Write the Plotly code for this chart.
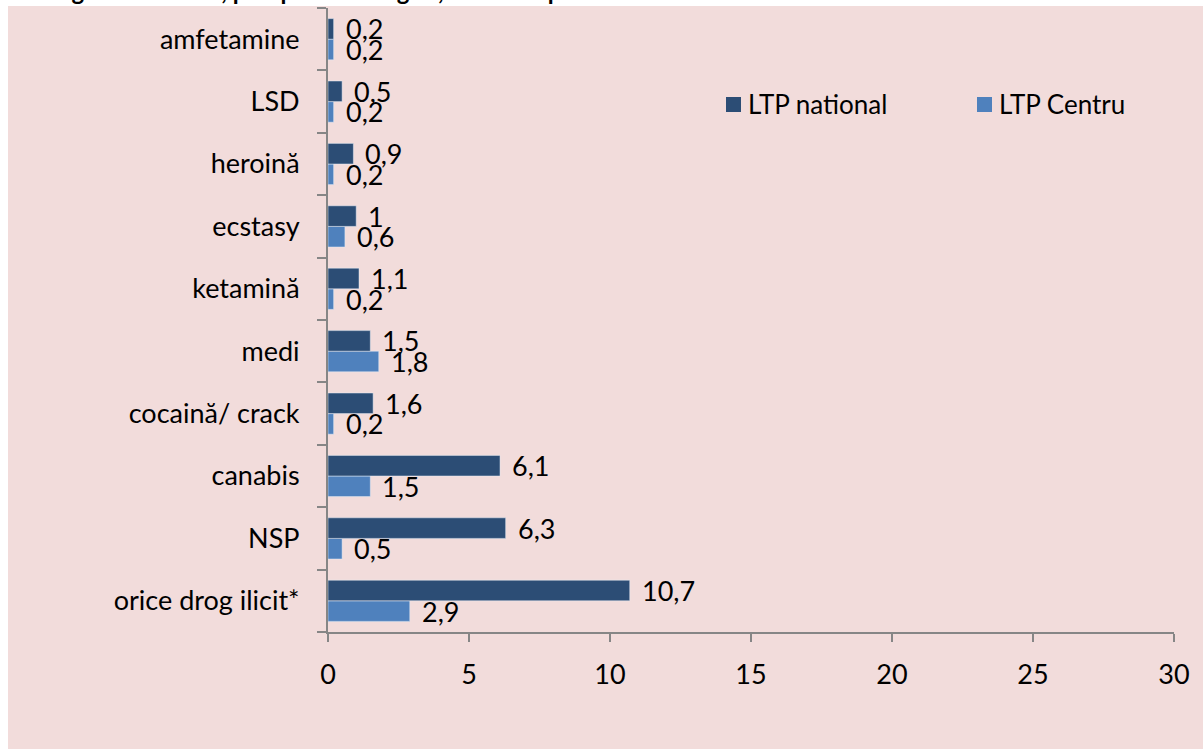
import plotly.graph_objects as go

# Drug categories, listed bottom-to-top as they appear on the axis
categories = [
    "orice drog ilicit*", "NSP", "canabis", "cocaină/ crack", "medi",
    "ketamină", "ecstasy", "heroină", "LSD", "amfetamine",
]
ltp_national = [10.7, 6.3, 6.1, 1.6, 1.5, 1.1, 1, 0.9, 0.5, 0.2]
ltp_centru = [2.9, 0.5, 1.5, 0.2, 1.8, 0.2, 0.6, 0.2, 0.2, 0.2]
x_ticks = [0, 5, 10, 15, 20, 25, 30]

FONT = "Lato"
DARK = "#2C4D75"
LIGHT = "#4F81BD"
PINK = "#F2DCDB"
AXIS = "#868686"

W, H = 1203, 749
L, R, T, B = 328, 29, 8, 117
pw, ph = W - L - R, H - T - B


def fmt(v):
    return f"{v:g}".replace(".", ",")


def px_x(p):
    return (p - L) / pw


def px_y(p):
    return (H - B - p) / ph


series = [
    ("LTP Centru", ltp_centru, LIGHT),
    ("LTP national", ltp_national, DARK),
]

fig = go.Figure()
for name, vals, color in series:
    fig.add_trace(go.Bar(
        y=categories, x=vals, orientation="h", name=name,
        marker=dict(color=color), showlegend=False,
    ))

# Value labels placed just past the end of each bar
band = 1 - 0.34
offsets = {"LTP national": band / 4, "LTP Centru": -band / 4}
annotations = []
shapes = [dict(
    type="rect", xref="paper", yref="paper", layer="below",
    x0=px_x(8), x1=px_x(W + 5), y0=px_y(H + 5), y1=px_y(6),
    fillcolor=PINK, line=dict(width=0),
)]
for name, vals, color in series:
    for cat_i, v in enumerate(vals):
        annotations.append(dict(
            x=v, y=cat_i + offsets[name], xref="x", yref="y",
            text=fmt(v), showarrow=False, xanchor="left",
            yanchor="middle", xshift=10,
            font=dict(family=FONT, size=27, color="black"),
        ))

# Legend: coloured squares with series names
legend_items = [("LTP national", DARK, 726), ("LTP Centru", LIGHT, 977)]
for name, color, x0 in legend_items:
    shapes.append(dict(
        type="rect", xref="paper", yref="paper",
        x0=px_x(x0), x1=px_x(x0 + 15), y0=px_y(112), y1=px_y(97),
        fillcolor=color, line=dict(width=0),
    ))
    annotations.append(dict(
        x=px_x(x0 + 20), y=px_y(104), xref="paper", yref="paper",
        xanchor="left", yanchor="middle", showarrow=False, text=name,
        font=dict(family=FONT, size=26, color="black"),
    ))

# Heading above the chart area
annotations.append(dict(
    x=px_x(618), y=1 + 1 / ph, xref="paper", yref="paper",
    xanchor="right", yanchor="bottom", showarrow=False,
    text="<b>regiunea Centru, pe tipuri de droguri, date comparate</b>",
    font=dict(family=FONT, size=24, color="black"),
))

fig.update_layout(
    width=W, height=H,
    margin=dict(l=L, r=R, t=T, b=B, pad=0),
    paper_bgcolor="white", plot_bgcolor=PINK,
    barmode="group", bargap=0.34, bargroupgap=0,
    font=dict(family=FONT, size=27, color="black"),
    annotations=annotations,
    shapes=shapes,
    showlegend=False,
    xaxis=dict(
        range=[0, 30], tickvals=x_ticks, showgrid=False, zeroline=False,
        showline=True, linecolor=AXIS, linewidth=2,
        ticks="outside", ticklen=8, tickcolor=AXIS, tickwidth=2,
        ticklabelstandoff=10, tickfont=dict(family=FONT, size=27),
    ),
    yaxis=dict(
        type="category", categoryorder="array", categoryarray=categories,
        range=[-0.5, len(categories) - 0.5],
        showgrid=False, zeroline=False, showline=True, linecolor=AXIS,
        linewidth=2, ticks="outside", ticklen=9, tickcolor=AXIS, tickwidth=2,
        tickson="boundaries", ticklabelstandoff=21,
        tickfont=dict(family=FONT, size=27),
    ),
)

fig.write_html("out.html")
